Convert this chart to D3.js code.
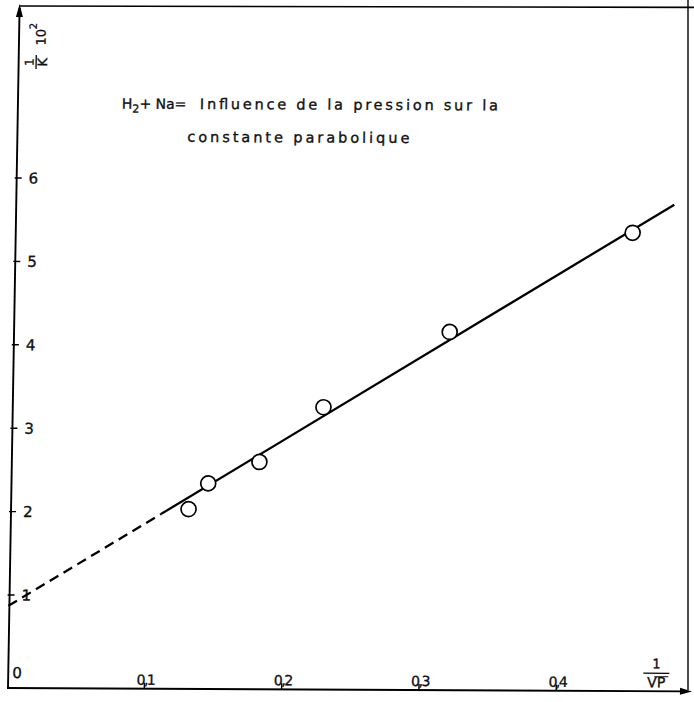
<!DOCTYPE html>
<html>
<head>
<meta charset="utf-8">
<script src="https://cdn.jsdelivr.net/npm/d3@7"></script>
<style>
  html, body { margin: 0; padding: 0; background: #fff; }
  svg { display: block; }
  text { font-family: "DejaVu Sans", sans-serif; fill: #111; stroke: #111; stroke-width: 0.35; }
</style>
</head>
<body>
<div id="chart"></div>
<script>
// ---- data ----
const invSqrtP = [0.130, 0.144, 0.181, 0.227, 0.318, 0.450];   // 1/√P
const invK     = [2.04, 2.35, 2.61, 3.27, 4.18, 5.38];          // (1/K)·10²
const fitX     = [0.0, 0.11, 0.48];                             // fitted straight line
const fitY     = [0.87, 1.98, 5.72];
const dashedUntil = 0.11;
const yTicks = [1, 2, 3, 4, 5, 6];
const yTickLabels = ["1", "2", "3", "4", "5", "6"];
const xTicks = [0.1, 0.2, 0.3, 0.4];
const xTickLabels = ["0,1", "0,2", "0,3", "0,4"];
const titleLines = ["Influence de la pression sur la", "constante parabolique"];

const W = 694, H = 702;
const svg = d3.select("#chart").append("svg")
  .attr("width", W).attr("height", H);

// scanned page is slightly sheared
const g = svg.append("g").attr("transform", "matrix(1,0.005,-0.017,1,11.7,-0.04)");

const axisY = 688, axisX = 8;
const x = d3.scaleLinear().domain([0, 0.4]).range([7, 556.2]);
const y = d3.scaleLinear().domain([0, 6]).range([678.4, 178]);

// axes lines
g.append("line").attr("x1", axisX).attr("x2", axisX).attr("y1", axisY).attr("y2", 8)
  .attr("stroke", "#000").attr("stroke-width", 1.9);
g.append("line").attr("x1", axisX - 1).attr("x2", 684).attr("y1", axisY).attr("y2", axisY)
  .attr("stroke", "#000").attr("stroke-width", 1.9);
// arrows
g.append("path").attr("d", `M${axisX},4 L${axisX - 3.5},17 L${axisX + 3.5},17 Z`).attr("fill", "#000");
g.append("path").attr("d", `M692,${axisY} L680,${axisY - 3.5} L680,${axisY + 3.5} Z`).attr("fill", "#000");
// top frame line
g.append("line").attr("x1", axisX).attr("x2", 700).attr("y1", 6).attr("y2", 4)
  .attr("stroke", "#000").attr("stroke-width", 1.6);

// y ticks
const yt = g.append("g");
yt.selectAll("line").data(yTicks).join("line")
  .attr("x1", axisX - 2).attr("x2", axisX + 5)
  .attr("y1", d => y(d)).attr("y2", d => y(d))
  .attr("stroke", "#000").attr("stroke-width", 1.4);
yt.selectAll("text").data(yTicks).join("text")
  .attr("x", 20).attr("y", d => y(d)).attr("dy", "0.36em")
  .attr("font-size", 15).text((d, i) => yTickLabels[i]);

// x ticks
const xt = g.append("g");
xt.selectAll("line").data(xTicks).join("line")
  .attr("x1", d => x(d)).attr("x2", d => x(d))
  .attr("y1", axisY).attr("y2", axisY - 6)
  .attr("stroke", "#000").attr("stroke-width", 1.4);
xt.selectAll("text").data(xTicks).join("text")
  .attr("x", d => x(d) + 1).attr("y", axisY - 4)
  .attr("text-anchor", "middle").attr("font-size", 14)
  .attr("letter-spacing", -1.5)
  .text((d, i) => xTickLabels[i]);
g.append("text").attr("x", 12).attr("y", axisY - 10).attr("font-size", 15).text("0");

// x axis title 1/√P
const xl = g.append("g").attr("transform", "translate(656,0)");
xl.append("text").attr("x", 0).attr("y", 665).attr("text-anchor", "middle").attr("font-size", 13).text("1");
xl.append("line").attr("x1", -13).attr("x2", 13).attr("y1", 670).attr("y2", 670).attr("stroke", "#000").attr("stroke-width", 1.3);
xl.append("text").attr("x", 0).attr("y", 684).attr("text-anchor", "middle").attr("font-size", 14).text("VP");
xl.append("line").attr("x1", -2).attr("x2", 12).attr("y1", 673.5).attr("y2", 673.5).attr("stroke", "#000").attr("stroke-width", 1.1);

// y axis title  1/K · 10²
const yl = g.append("g");
function rotText(cx, cy, s, fs) {
  yl.append("text").attr("transform", `translate(${cx},${cy}) rotate(-90)`)
    .attr("text-anchor", "middle").attr("dominant-baseline", "central")
    .attr("font-size", fs).text(s);
}
rotText(19, 62, "1", 12);
yl.append("line").attr("x1", 25.5).attr("x2", 25.5).attr("y1", 55).attr("y2", 69).attr("stroke", "#000").attr("stroke-width", 1.3);
rotText(32, 62, "K", 13);
rotText(30, 37, "10", 13);
rotText(22, 26, "2", 10);

// fitted line: dashed part then solid part
const line = d3.line().x(d => x(d[0])).y(d => y(d[1]));
const pts = fitX.map((v, i) => [v, fitY[i]]);
g.append("path").attr("d", line(pts.filter(p => p[0] <= dashedUntil)))
  .attr("fill", "none").attr("stroke", "#000").attr("stroke-width", 2.3).attr("stroke-dasharray", "10,6");
g.append("path").attr("d", line(pts.filter(p => p[0] >= dashedUntil)))
  .attr("fill", "none").attr("stroke", "#000").attr("stroke-width", 2.3);

// data points
g.selectAll("circle.pt").data(invSqrtP).join("circle").attr("class", "pt")
  .attr("cx", d => x(d)).attr("cy", (d, i) => y(invK[i])).attr("r", 7.5)
  .attr("fill", "#fff").attr("stroke", "#000").attr("stroke-width", 1.7);

// title
const t1 = g.append("text").attr("x", 112).attr("y", 108).attr("font-size", 14);
t1.append("tspan").text("H");
t1.append("tspan").attr("font-size", 11).attr("dy", 4).text("2");
t1.append("tspan").attr("dy", -4).text("+ Na=");
g.append("text").attr("x", 190).attr("y", 108).attr("font-size", 14.5)
  .attr("textLength", 298).attr("lengthAdjust", "spacing").text(titleLines[0]);
g.append("text").attr("x", 178).attr("y", 141).attr("font-size", 14.5)
  .attr("textLength", 222).attr("lengthAdjust", "spacing").text(titleLines[1]);

// right page border
svg.append("line").attr("x1", 688).attr("x2", 688).attr("y1", 0).attr("y2", 690)
  .attr("stroke", "#000").attr("stroke-width", 1.4);
</script>
</body>
</html>
